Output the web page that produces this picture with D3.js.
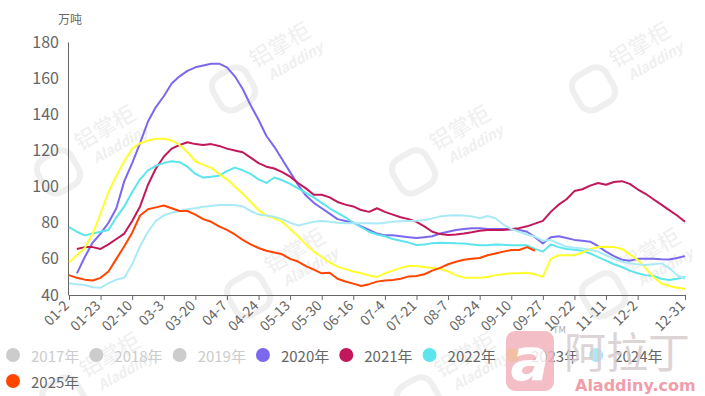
<!DOCTYPE html>
<html>
<head>
<meta charset="utf-8">
<script src="https://cdn.jsdelivr.net/npm/d3@7"></script>
<style>
  body { margin: 0; background: #fff; }
  svg { display: block; font-family: "Noto Sans CJK SC", "Noto Sans", sans-serif; }
</style>
</head>
<body>
<svg id="chart" width="705" height="396"></svg>
<script>
const width = 705;
const height = 396;
const margin = { top: 42, right: 20, bottom: 101, left: 69 };

// category axis (dates), only every 4th one plus the last is labelled
const categories = [
  "01-2","01-6","01-12","01-17","01-23","01-27","01-31","02-6","02-10","02-14",
  "02-20","02-26","03-3","03-6","03-10","03-16","03-20","03-24","03-30","04-3",
  "04-7","04-10","04-14","04-20","04-24","04-28","05-5","05-8","05-13","05-16",
  "05-20","05-26","05-30","06-2","06-6","06-12","06-16","06-20","06-26","06-30",
  "07-4","07-7","07-11","07-17","07-21","07-24","07-28","08-3","08-7","08-10",
  "08-14","08-20","08-24","08-28","09-1","09-7","09-10","09-14","09-18","09-24",
  "09-27","10-9","10-12","10-16","10-22","10-26","10-30","11-6","11-11","11-14",
  "11-19","11-26","12-2","12-5","12-10","12-15","12-19","12-25","12-31"
];
const labelIdx = [0,4,8,12,16,20,24,28,32,36,40,44,48,52,56,60,64,68,72,78];
const yTicks = [40,60,80,100,120,140,160,180];

const s2020 = [
  null,52,61,69,74,80,88,103,113,124,
  136,144,150,157,161,164,166,167,168,168,
  166,161,154,145,137,128,122,115,108,101,
  95,91,88,85,82,81,80,78,76,74,
  73,73,72.5,72,71.5,72,72.5,74,75,76,
  76.5,77,77,76.5,76.5,76.5,76.3,76,75,72,
  68.5,72,72.5,71.5,70.5,70,69.5,67,64,61.5,
  59.5,59,60,60,60,59.8,59.7,60.5,61.5
];
const s2021 = [
  null,65.5,66.5,66.5,65.5,68,71,74,81,89,
  101,110,116.5,121,123,124.5,123.5,123,123.5,122.5,
  121,120,119,116,113,111,110,108,105.5,102,
  99,95.5,95.5,94,91.5,90,89,87,86,88,
  86,84.5,83,82,80.5,78,75,73.7,73.2,73.5,
  74,74.7,75.5,76,76,76,76.5,77,78,79.5,
  81,86,90,93,97.5,98.5,100.5,102,101,102.5,
  103,101.5,98.5,96,93,90,87,84,80.5
];
const s2022 = [
  77.5,75,73,74,75,76,83,89,97,104,
  109,111.5,113,114,113.5,111,107,105,105.5,106,
  108.5,110.5,109,107,104,102,105,103.5,101.5,99,
  96.5,94,91,88,85.5,83,80,77.5,75,73.5,
  72.5,71,70,69,67.7,68,68.7,68.9,68.8,68.6,
  68.5,68,67.5,67.5,68,67.8,67.5,67.5,67.5,65.5,
  64,68,66.5,65.5,65,64.5,63,61,59,57,
  55.5,53.5,52,51,50.5,49,48.3,49,50
];
const s2023 = [
  58,62,66,74,85,97,106,114,121,124,
  125.5,126.5,126.5,125.5,123,119,114,112,110.5,107,
  104,100,96,91.5,87,84,82.4,80.5,76.5,72.5,
  68,64,61,58,55.7,54.3,53,52,50.8,50,
  52,53.5,55,56,56,55.5,55,54.5,53,51,
  49.6,49.5,49.6,50,51,51.5,52,52,52.3,51.5,
  50,60,62,62,62,63.5,65.5,66.5,66.7,66.5,
  65.5,62.5,59.5,55,50,46.5,45,44,43.5
];
const s2024 = [
  46.5,46,45.5,44.3,44,46.5,48.5,49.5,57,67,
  75,81,84,85.5,86.5,87.5,88,88.8,89.3,89.8,
  89.8,89.8,89,86.5,84.5,84,83.3,82,80,78.5,
  79.5,80.5,81,80.5,80,79.7,79.7,79.7,79.7,79.5,
  80,80.6,80.8,81,81.1,81.5,82.4,83.5,84,84.1,
  84,83.5,82.5,83.7,82.5,79,76.5,75,73.5,72.3,
  70,70.4,68.5,66.7,66.2,65.8,65,64,62,60,
  58.5,57.5,57,56.6,57,57.5,55,51,49
];
const s2025 = [
  51,49.5,48.5,48,49.5,53,60,67,74.5,84,
  87.5,88.5,89.5,88,86.5,86.5,84.5,82,80.5,78,
  76,73.5,70.5,68,66,64.5,63.5,62.5,60,58.5,
  56,54,52,52.3,49,47.5,46.3,45,46,47.4,
  48,48.3,49,50.3,50.5,51.5,53.5,55,57,58.4,
  59.5,60,60.5,62,63,64,64.9,64.9,66.5,64.5
];

const seriesList = [
  { name: "2020年", color: "#7b68ee", values: s2020 },
  { name: "2021年", color: "#c2185b", values: s2021 },
  { name: "2022年", color: "#5ce5ed", values: s2022 },
  { name: "2023年", color: "#ffff2e", values: s2023 },
  { name: "2024年", color: "#aaeaf7", values: s2024 },
  { name: "2025年", color: "#ff4500", values: s2025 }
];

const legendNames = ["2017年","2018年","2019年","2020年","2021年","2022年","2023年","2024年","2025年"];
const legendColors = ["#ccc","#ccc","#ccc","#7b68ee","#c2185b","#5ce5ed","#ffff2e","#aaeaf7","#ff4500"];
const legendOff = [true,true,true,false,false,false,false,false,false];

const svg = d3.select("#chart");
svg.append("rect").attr("width", width).attr("height", height).attr("fill", "#fff");

// faint watermarks behind everything
const marks = [[270,62],[630,62],[95,145],[450,145],[285,268],[640,268],[100,372],[455,372]];
marks.forEach(([mx, my]) => {
  const g = svg.append("g")
    .attr("transform", `translate(${mx},${my}) rotate(-30)`)
    .attr("fill", "#efefef");
  g.append("rect")
    .attr("x", -64).attr("y", -14).attr("width", 38).attr("height", 38).attr("rx", 12)
    .attr("fill", "none").attr("stroke", "#efefef").attr("stroke-width", 6);
  g.append("text").attr("x", -16).attr("y", -2).attr("font-size", 22).text("铝掌柜");
  g.append("text").attr("x", -8).attr("y", 17).attr("font-size", 14)
    .attr("font-weight", "bold").attr("font-style", "italic").text("Aladdiny");
});

const x = d3.scalePoint()
  .domain(categories)
  .range([margin.left, width - margin.right]);

const y = d3.scaleLinear()
  .domain([40, 180])
  .range([height - margin.bottom, margin.top]);

// y axis
const yAxis = svg.append("g")
  .attr("transform", `translate(${margin.left - 1},0)`)
  .call(d3.axisLeft(y).tickValues(yTicks).tickSize(0).tickPadding(9));
yAxis.select(".domain").attr("stroke", "#666");
yAxis.selectAll("text").attr("font-size", 16).attr("fill", "#666")
  .attr("font-family", "Noto Sans CJK SC, sans-serif");

svg.append("text")
  .attr("x", margin.left + 1).attr("y", 24)
  .attr("text-anchor", "middle")
  .attr("font-size", 12).attr("fill", "#666")
  .text("万吨");

// x axis
const xAxis = svg.append("g")
  .attr("transform", `translate(0,${height - margin.bottom})`)
  .call(d3.axisBottom(x)
    .tickValues(labelIdx.map(i => categories[i]))
    .tickSize(5)
    .tickSizeOuter(0));
xAxis.select(".domain").attr("stroke", "#666");
xAxis.selectAll(".tick line").attr("stroke", "#666");
xAxis.selectAll("text")
  .attr("font-size", 14).attr("fill", "#666")
  .attr("font-family", "Noto Sans CJK SC, sans-serif")
  .attr("text-anchor", "end")
  .attr("x", 0).attr("y", 0).attr("dy", "0.35em")
  .attr("transform", "translate(-3,8) rotate(-45)");

// lines
const line = d3.line()
  .defined(d => d != null)
  .x((d, i) => x(categories[i]))
  .y(d => y(d));

seriesList.forEach(s => {
  svg.append("path")
    .datum(s.values)
    .attr("fill", "none")
    .attr("stroke", s.color)
    .attr("stroke-width", 2)
    .attr("stroke-linejoin", "round")
    .attr("d", line);
});

// legend, wraps to a second row
const legend = svg.append("g");
let cx = 13, cy = 355;
legendNames.forEach((name, i) => {
  const item = legend.append("g");
  const t = item.append("text")
    .attr("font-size", 15)
    .attr("fill", legendOff[i] ? "#ccc" : "#666")
    .attr("dominant-baseline", "central")
    .text(name);
  const w = t.node().getComputedTextLength();
  if (cx + 18 + w > width) { cx = 13; cy += 26; }
  item.append("circle").attr("cx", cx).attr("cy", cy).attr("r", 7).attr("fill", legendColors[i]);
  t.attr("x", cx + 18).attr("y", cy);
  cx = cx + 18 + w + 17;
});

// brand logo, bottom right, laid over the legend as in the source
const logo = svg.append("g").attr("opacity", 0.85);
logo.append("rect")
  .attr("x", 506).attr("y", 331).attr("width", 48).attr("height", 60).attr("rx", 9)
  .attr("fill", "#f2b3bb");
logo.append("text")
  .attr("x", 530).attr("y", 380).attr("text-anchor", "middle")
  .attr("font-size", 58).attr("font-weight", "bold").attr("font-style", "italic")
  .attr("fill", "#fff").attr("font-family", "DejaVu Sans, sans-serif").text("a");
logo.append("text")
  .attr("x", 553).attr("y", 333).attr("font-size", 9).attr("fill", "#999").text("TM");
logo.append("text")
  .attr("x", 564).attr("y", 368).attr("font-size", 42)
  .attr("fill", "#d8cdd0").text("阿拉丁");
logo.append("text")
  .attr("x", 575).attr("y", 391).attr("font-size", 16).attr("font-weight", "bold")
  .attr("fill", "#f08c9c").attr("font-family", "DejaVu Sans, sans-serif").text("Aladdiny.com");
</script>
</body>
</html>
